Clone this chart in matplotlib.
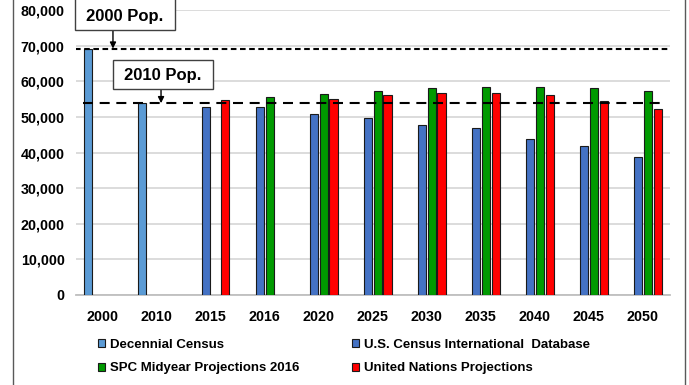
import matplotlib.pyplot as plt
import matplotlib.patches as mpatches
import numpy as np

plt.rcParams['font.family'] = ['Liberation Sans', 'DejaVu Sans']
plt.rcParams['font.weight'] = 'bold'

years = ['2000', '2010', '2015', '2016', '2020', '2025', '2030', '2035', '2040', '2045', '2050']
nan = np.nan
decennial = [69221, 53883, nan, nan, nan, nan, nan, nan, nan, nan, nan]
census_idb = [nan, nan, 52700, 52700, 50800, 49800, 47800, 46900, 43900, 41900, 38700]
spc_2016 = [nan, nan, nan, 55500, 56500, 57400, 58100, 58500, 58500, 58100, 57400]
un_proj = [nan, nan, 54800, nan, 55100, 56200, 56800, 56800, 56200, 54400, 52200]

pop_2000 = 69221
pop_2010 = 53883

W, H = 689, 385
fig = plt.figure(figsize=(W / 100, H / 100), dpi=100)
ax = fig.add_axes([75.7 / W, 90 / H, (670 - 75.7) / W, (295 - 10.2) / H])

x = np.arange(len(years))
slot = 0.181
bw = 0.15
series = [
    (decennial, '#5B9BD5', 'Decennial Census'),
    (census_idb, '#4472C4', 'U.S. Census International  Database'),
    (spc_2016, '#009A00', 'SPC Midyear Projections 2016'),
    (un_proj, '#FF0000', 'United Nations Projections'),
]
handles = []
for k, (vals, col, lab) in enumerate(series):
    ax.bar(x + (k - 1.5) * slot, vals, width=bw, color=col,
           edgecolor='#1a1a1a', linewidth=0.8, zorder=3)
    handles.append(mpatches.Patch(facecolor=col, edgecolor='#1a1a1a',
                                  linewidth=0.8, label=lab))

# reference population lines
ax.plot([-0.51, 10.47], [pop_2000, pop_2000], color='black', lw=1.5,
        dashes=(2.7, 1.7), zorder=4)
ax.plot([-0.36, 10.41], [pop_2010, pop_2010], color='black', lw=1.5,
        dashes=(4.8, 3.2), zorder=4)

ax.set_xlim(-0.5, len(years) - 0.5)
ax.set_ylim(0, 80000)
ax.set_yticks(np.arange(0, 80001, 10000))
ax.set_yticklabels([f'{v:,}' for v in range(0, 80001, 10000)])
ax.set_xticks(x)
ax.set_xticklabels(years)
ax.tick_params(axis='both', length=0, labelsize=10.3, colors='black')
ax.tick_params(axis='y', pad=8)
ax.tick_params(axis='x', pad=11)
ax.grid(axis='y', color='#D9D9D9', lw=1.3, zorder=0)
for s in ['top', 'right', 'left']:
    ax.spines[s].set_visible(False)
ax.spines['bottom'].set_color('#BFBFBF')
ax.spines['bottom'].set_linewidth(1.3)


def px(xp, yp):
    return xp / W, 1 - yp / H


# label boxes with arrows
for (x0, y0, x1, y1), txt, ax_x, ax_y in [
    ((75, -6, 175, 30), '2000 Pop.', 0.19, pop_2000),
    ((113, 60, 213, 89), '2010 Pop.', 1.08, pop_2010),
]:
    fx0, fy1 = px(x0, y1)
    fig.patches.append(mpatches.Rectangle((fx0, fy1), (x1 - x0) / W, (y1 - y0) / H,
                                          transform=fig.transFigure, facecolor='white',
                                          edgecolor='#404040', lw=1.0, zorder=5))
    cy = y1 - 13 if y0 < 0 else (y0 + y1) / 2 + 1
    fig.text(*px((x0 + x1) / 2, cy), txt, ha='center', va='center',
             fontsize=12, fontweight='bold', zorder=6)
    ax.annotate('', xy=(ax_x, ax_y), xycoords='data',
                xytext=px(ax_x * 54 + 75.7 + 27, y1), textcoords='figure fraction',
                arrowprops=dict(arrowstyle='-|>', color='black', lw=1.0,
                                mutation_scale=9, shrinkA=0, shrinkB=0))

# outer frame
fig.patches.append(mpatches.Rectangle((12.7 / W, -0.02), (685 - 12.7) / W, 1.04,
                                      transform=fig.transFigure, fill=False,
                                      edgecolor='#595959', lw=1.0))

order = [handles[0], handles[2], handles[1], handles[3]]
fig.legend(handles=order, labels=[h.get_label() for h in order], ncol=2,
           loc='upper left', bbox_to_anchor=(98 / W, 1 - 339 / H), frameon=False,
           fontsize=9.5, handlelength=0.55, handleheight=0.55, handletextpad=0.35,
           columnspacing=4.0, labelspacing=0.85, borderaxespad=0, borderpad=0)

fig.savefig('out.png', dpi=100)
